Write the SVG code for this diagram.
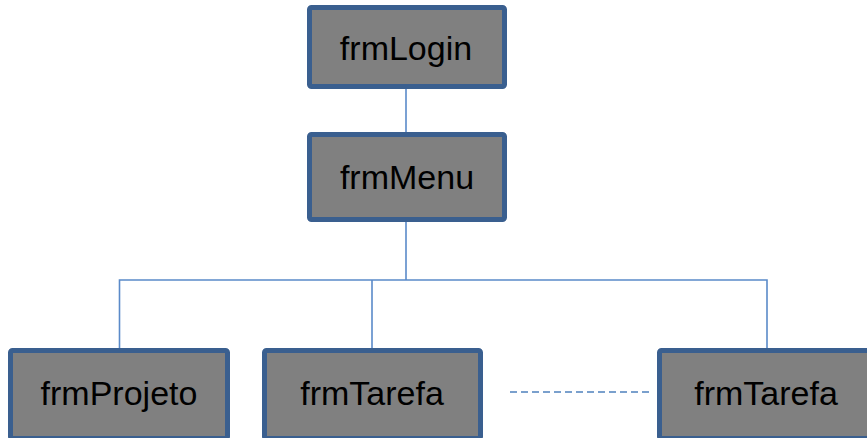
<svg xmlns="http://www.w3.org/2000/svg" width="867" height="438" viewBox="0 0 867 438">
<style>
.box{fill:#808080;stroke:#3a5f8f;stroke-width:5}
.lbl{font-family:"Liberation Sans",Arial,sans-serif;font-size:34px;fill:#000;text-anchor:middle}
.conn{fill:none;stroke:#5a8ac9;stroke-width:1.6}
.dash{fill:none;stroke:#4f81bd;stroke-width:1.6;stroke-dasharray:7 4}
</style>
<rect width="867" height="438" fill="#fff"/>
<g id="connectors">
<path class="conn" d="M406 89V132"/>
<path class="conn" d="M406 222V280"/>
<path class="conn" d="M119.5 348V280H767V348"/>
<path class="conn" d="M372 280V348"/>
<path class="dash" d="M510 392H652"/>
</g>
<g id="frmLogin">
<rect class="box" x="309.5" y="7.5" width="195" height="79" rx="2"/>
<text class="lbl" x="406" y="60">frmLogin</text>
</g>
<g id="frmMenu">
<rect class="box" x="309.5" y="134.5" width="195" height="85" rx="2"/>
<text class="lbl" x="407" y="189">frmMenu</text>
</g>
<g id="frmProjeto">
<rect class="box" x="10.5" y="350.5" width="217" height="88" rx="2"/>
<text class="lbl" x="119" y="405">frmProjeto</text>
</g>
<g id="frmTarefa1">
<rect class="box" x="264.5" y="350.5" width="216" height="88" rx="2"/>
<text class="lbl" x="372" y="405">frmTarefa</text>
</g>
<g id="frmTarefa2">
<rect class="box" x="659.5" y="350.5" width="216" height="88" rx="2"/>
<text class="lbl" x="766" y="405">frmTarefa</text>
</g>
</svg>
